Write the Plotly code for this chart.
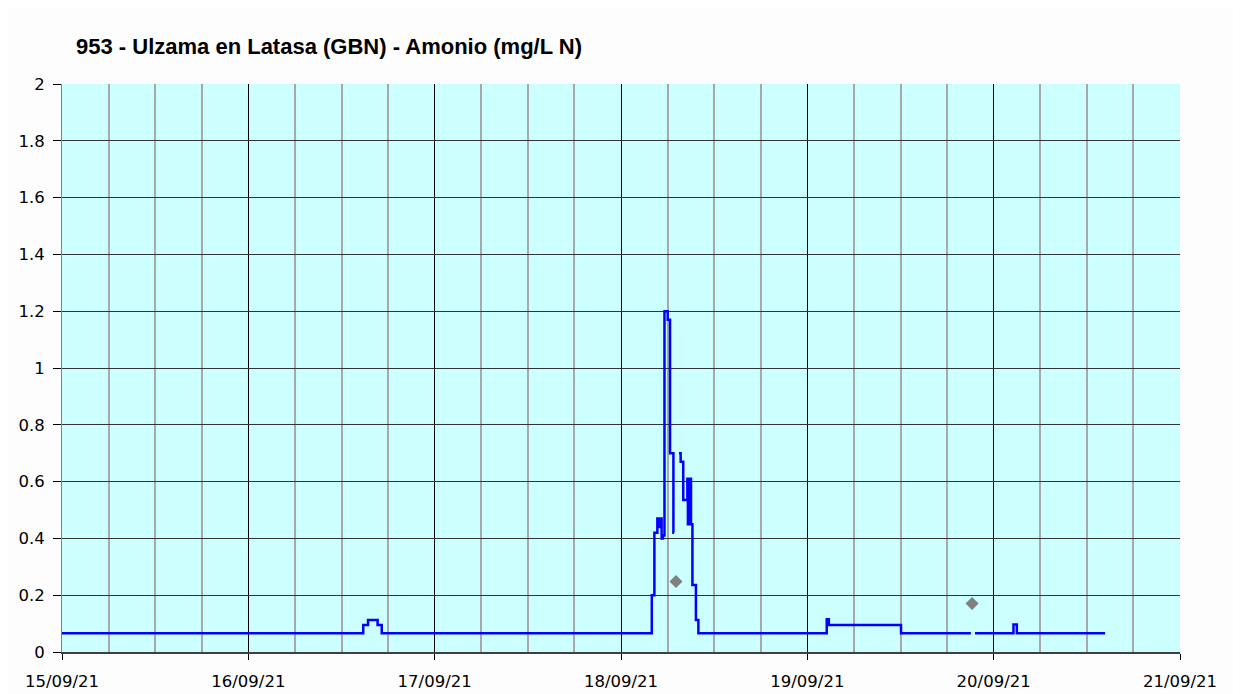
import plotly.graph_objects as go

# Step-change points of the ammonium series (value holds until next time)
times = [
    "2021-09-15 00:00",
    "2021-09-16 14:48", "2021-09-16 15:25", "2021-09-16 16:39", "2021-09-16 17:11",
    "2021-09-18 03:58", "2021-09-18 04:18", "2021-09-18 04:41", "2021-09-18 04:55",
    "2021-09-18 05:02", "2021-09-18 05:14", "2021-09-18 05:24", "2021-09-18 05:36",
    "2021-09-18 06:01", "2021-09-18 06:19", "2021-09-18 06:45", "2021-09-18 06:50",
    "2021-09-18 06:51",
    "2021-09-18 07:28", "2021-09-18 07:41", "2021-09-18 08:01", "2021-09-18 08:33",
    "2021-09-18 08:37", "2021-09-18 08:41", "2021-09-18 08:45", "2021-09-18 08:49",
    "2021-09-18 08:53", "2021-09-18 08:57", "2021-09-18 09:01",
    "2021-09-18 09:12", "2021-09-18 09:39", "2021-09-18 09:58",
    "2021-09-19 02:30", "2021-09-19 02:46", "2021-09-19 12:04", "2021-09-19 21:04",
    "2021-09-19 21:05",
    "2021-09-19 21:36", "2021-09-20 02:33", "2021-09-20 02:59", "2021-09-20 14:21",
]
values = [
    0.066,
    0.095, 0.113, 0.095, 0.066,
    0.20, 0.42, 0.47, 0.44,
    0.47, 0.40, 0.41, 1.20,
    1.17, 0.70, 0.42, 0.42,
    None,
    0.70, 0.67, 0.535, 0.61,
    0.45, 0.61, 0.45, 0.61,
    0.45, 0.61, 0.45,
    0.236, 0.113, 0.066,
    0.115, 0.095, 0.066, 0.066,
    None,
    0.066, 0.097, 0.066, 0.066,
]

# Lab samples (grey diamonds)
lab_times = ["2021-09-18 07:05", "2021-09-19 21:13"]
lab_values = [0.248, 0.171]

y_ticks = [0, 0.2, 0.4, 0.6, 0.8, 1, 1.2, 1.4, 1.6, 1.8, 2]

fig = go.Figure()
fig.add_trace(go.Scatter(
    x=times, y=values, mode="lines", line=dict(color="#0000ff", width=2.5, shape="hv"),
    connectgaps=False, showlegend=False,
))
fig.add_trace(go.Scatter(
    x=lab_times, y=lab_values, mode="markers",
    marker=dict(symbol="diamond", color="#808080", size=10), showlegend=False,
))

fig.update_layout(
    width=1233, height=686,
    margin=dict(l=54, r=61, t=76, b=42),
    paper_bgcolor="#fdfdfd", plot_bgcolor="#ccffff",
    title=dict(text="<b>953 - Ulzama en Latasa (GBN) - Amonio (mg/L N)</b>",
               x=68/1233, xanchor="left", y=1-38/686, yanchor="middle",
               font=dict(family="Liberation Sans, Arial", size=22, color="#000000")),
    font=dict(family="DejaVu Sans", size=16.5, color="#000000"),
)
fig.update_xaxes(
    range=["2021-09-15 00:00", "2021-09-21 00:00"],
    dtick=86400000, tick0="2021-09-15", tickformat="%d/%m/%y",
    showgrid=True, gridcolor="#000000", gridwidth=1.2,
    minor=dict(dtick=21600000, showgrid=True, gridcolor="#a8a8a8", gridwidth=1.5),
    showline=True, linecolor="#404040", linewidth=1.5,
    ticks="outside", ticklen=6, tickcolor="#000000",
    ticklabelstandoff=7, zeroline=False, automargin=False,
)
fig.update_yaxes(
    range=[0, 2], tickvals=y_ticks, ticktext=[f"{v:g}" for v in y_ticks],
    showgrid=True, gridcolor="#333333", gridwidth=1.2,
    showline=True, linecolor="#808080", linewidth=1,
    ticks="outside", ticklen=8, tickcolor="#000000", zeroline=False,
    ticklabelstandoff=5, automargin=False,
)

fig.write_html("out.html")
